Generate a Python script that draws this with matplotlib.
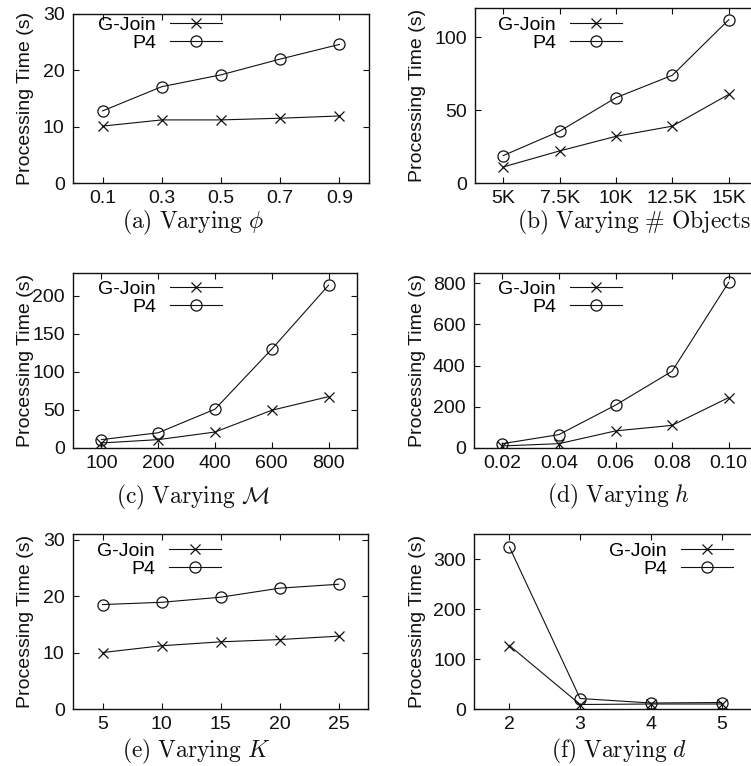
import numpy as np
import matplotlib
matplotlib.use("Agg")
import matplotlib.pyplot as plt

plt.rcParams['font.family'] = ['Liberation Sans', 'DejaVu Sans']
plt.rcParams['mathtext.fontset'] = 'cm'

W, H = 751, 766

# ---- data ----
phi_ticks = ["0.1", "0.3", "0.5", "0.7", "0.9"]
phi_gjoin = [10.1, 11.2, 11.2, 11.5, 11.9]
phi_p4 = [12.8, 17.1, 19.2, 22.0, 24.6]

obj_ticks = ["5K", "7.5K", "10K", "12.5K", "15K"]
obj_gjoin = [11.0, 22.0, 32.0, 39.0, 60.8]
obj_p4 = [18.8, 35.5, 58.5, 73.9, 112.0]

m_ticks = ["100", "200", "400", "600", "800"]
m_gjoin = [6.6, 11.0, 21.0, 49.6, 67.5]
m_p4 = [11.0, 20.0, 51.0, 130.0, 214.0]

h_ticks = ["0.02", "0.04", "0.06", "0.08", "0.10"]
h_gjoin = [10.0, 21.0, 83.0, 110.0, 245.0]
h_p4 = [21.0, 65.0, 208.0, 373.0, 805.0]

k_ticks = ["5", "10", "15", "20", "25"]
k_gjoin = [10.0, 11.2, 11.9, 12.3, 12.9]
k_p4 = [18.5, 18.9, 19.8, 21.4, 22.1]

d_ticks = ["2", "3", "4", "5"]
d_gjoin = [127.0, 9.0, 10.0, 10.0]
d_p4 = [324.0, 21.0, 12.0, 13.0]

# panel specs: ticks, series, ymax, yticks, axes box px (l, t, r, b), legend anchor px, caption, caption pos px
panels = [
    (phi_ticks, phi_gjoin, phi_p4, 30, [0, 10, 20, 30], (73, 14, 369, 183), (222, 16),
     r"$\mathrm{(a)\ Varying}\ \phi$", (193, 222)),
    (obj_ticks, obj_gjoin, obj_p4, 120, [0, 50, 100], (475, 8, 757, 183), (622, 16),
     r"$\mathrm{(b)\ Varying}\ \#\ \mathrm{Objects}$", (634, 222)),
    (m_ticks, m_gjoin, m_p4, 230, [0, 50, 100, 150, 200], (73, 273, 357, 448), (222, 280),
     r"$\mathrm{(c)\ Varying}\ \mathcal{M}$", (193, 497)),
    (h_ticks, h_gjoin, h_p4, 850, [0, 200, 400, 600, 800], (474, 273, 757, 448), (622, 280),
     r"$\mathrm{(d)\ Varying}\ h$", (618, 496)),
    (k_ticks, k_gjoin, k_p4, 31, [0, 10, 20, 30], (73, 534, 368, 709), (221, 542),
     r"$\mathrm{(e)\ Varying}\ K$", (196, 751)),
    (d_ticks, d_gjoin, d_p4, 350, [0, 100, 200, 300], (474, 534, 757, 709), (733, 542),
     r"$\mathrm{(f)\ Varying}\ d$", (619, 751)),
]

fig = plt.figure(figsize=(W / 100, H / 100), dpi=100)

for ticks, gj, p4, ymax, yt, box, leg, cap, cpos in panels:
    l, t, r, b = box
    ax = fig.add_axes([l / W, 1 - b / H, (r - l) / W, (b - t) / H])
    x = np.arange(len(ticks))
    ax.plot(x, gj, '-', color='#111111', lw=0.8, marker='x', ms=7.5, mew=0.9, label='G-Join')
    ax.plot(x, p4, '-', color='#111111', lw=0.8, marker='o', ms=8, mew=0.9, mfc='none', label='P4')
    ax.set_xlim(-0.5, len(ticks) - 0.5)
    ax.set_ylim(0, ymax)
    ax.set_xticks(x)
    ax.set_xticklabels(ticks)
    ax.set_yticks(yt)
    ax.tick_params(direction='in', top=True, right=True, length=4, width=0.8,
                   labelsize=14, pad=6, colors='#111111')
    ax.tick_params(axis='x', pad=5)
    for s in ax.spines.values():
        s.set_linewidth(1.0)
        s.set_color('#111111')
    ax.set_ylabel("Processing Time (s)", fontsize=14, color='#111111')
    ax.yaxis.set_label_coords((34 - l if l < 300 else 426 - l) / (r - l), 0.5)
    ax.legend(loc='upper right', bbox_to_anchor=(leg[0] / W, 1 - leg[1] / H),
              bbox_transform=fig.transFigure, frameon=False, fontsize=14,
              markerfirst=False, handlelength=2.7, handletextpad=0.7,
              labelspacing=0.05, borderpad=0, borderaxespad=0, markerscale=1.0)
    fig.text(cpos[0] / W, 1 - cpos[1] / H, cap, fontsize=17, ha='center', va='center',
             color='#111111')

fig.savefig("out.png", dpi=100)
